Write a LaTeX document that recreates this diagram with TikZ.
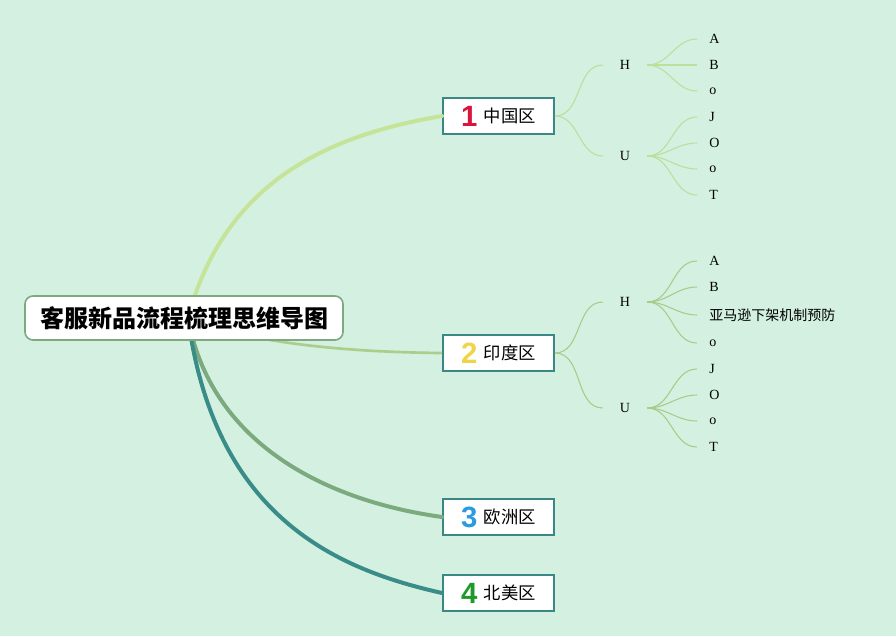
\documentclass[tikz,border=0pt]{standalone}
\usepackage{fontspec}
\setmainfont{Liberation Serif}
\newfontfamily\cjk{Noto Sans CJK SC}
\newfontfamily\digitfont{Liberation Sans}
\definecolor{mm_bg}{RGB}{211,240,225}
\definecolor{mm_root}{RGB}{126,168,128}
\definecolor{mm_box}{RGB}{58,136,134}
\definecolor{mm_one}{RGB}{197,228,154}
\definecolor{mm_two}{RGB}{170,207,140}
\definecolor{mm_three}{RGB}{123,170,126}
\definecolor{mm_four}{RGB}{58,140,136}
\definecolor{mm_thin}{RGB}{190,222,156}
\definecolor{mm_thintwo}{RGB}{168,204,136}
\definecolor{mm_red}{RGB}{218,20,58}
\definecolor{mm_yellow}{RGB}{242,212,74}
\definecolor{mm_blue}{RGB}{42,155,224}
\definecolor{mm_green}{RGB}{30,154,42}

\begin{document}
\begin{tikzpicture}[x=0.75pt,y=-0.75pt]
    % Define node and line styles
    \tikzset{
        rootbox/.style={draw=mm_root,line width=1.2pt,rounded corners=6pt,fill=white,
            minimum width=238.5pt,minimum height=33pt,inner sep=0pt,
            font=\cjk\bfseries\fontsize{18}{22}\selectfont},
        areabox/.style={draw=mm_box,line width=1.5pt,fill=white,
            minimum width=83.25pt,minimum height=27pt,inner sep=0pt,
            font=\cjk\fontsize{13}{15}\selectfont},
        sidenode/.style={minimum width=33pt,inner sep=0pt,font=\fontsize{10.5}{12}\selectfont},
        leafnode/.style={anchor=west,inner xsep=9pt,inner ysep=0pt,font=\fontsize{10.5}{12}\selectfont},
        thick branch/.style={line width=3pt,line cap=round},
        thin branch/.style={line width=0.8pt,out=0,in=180}
    }
    \newcommand{\num}[2]{\raisebox{-2.5pt}{\digitfont\bfseries\fontsize{22}{22}\selectfont\color{#1}#2}\hspace{5pt}}

    \fill[mm_bg] (0,0) rectangle (896,636); % Background

    % Main branches, drawn behind the root
    \coordinate (hub) at (188,318);
    \node[areabox] (china)  at (498.5,116) {\num{mm_red}{1}中国区};
    \node[areabox] (india)  at (498.5,353) {\num{mm_yellow}{2}印度区};
    \node[areabox] (europe) at (498.5,517) {\num{mm_blue}{3}欧洲区};
    \node[areabox] (usa)    at (498.5,593) {\num{mm_green}{4}北美区};

    \draw[thick branch,color=mm_one] (hub) .. controls (225,180) and (330,135) .. (china.west);
    \draw[line width=2pt,color=mm_two] (hub) .. controls (240,340) and (330,352) .. (india.west);
    \draw[thick branch,color=mm_three] (hub) .. controls (210,440) and (320,500) .. (europe.west);
    \draw[thick branch,color=mm_four] (hub) .. controls (215,520) and (340,570) .. (usa.west);

    \node[rootbox] (root) at (184,318) {客服新品流程梳理思维导图};

    % China subtree
    \node[sidenode] (chinah) at (625,65) {H};
    \node[sidenode] (chinau) at (625,156) {U};
    \draw[thin branch,color=mm_thin] (china.east) to (chinah.west);
    \draw[thin branch,color=mm_thin] (china.east) to (chinau.west);
    \foreach \n/\t/\y in {a/A/39,b/B/65,o/o/91}
    {
        \node[leafnode] (chinah\n) at (697,\y) {\t};
        \draw[thin branch,color=mm_thin] (chinah.east) to (chinah\n.west);
    }
    \foreach \n/\t/\y in {j/J/117,oo/O/143,o/o/169,t/T/195}
    {
        \node[leafnode] (chinau\n) at (697,\y) {\t};
        \draw[thin branch,color=mm_thin] (chinau.east) to (chinau\n.west);
    }

    % India subtree
    \node[sidenode] (indiah) at (625,302) {H};
    \node[sidenode] (indiau) at (625,408) {U};
    \draw[thin branch,color=mm_thintwo] (india.east) to (indiah.west);
    \draw[thin branch,color=mm_thintwo] (india.east) to (indiau.west);
    \foreach \n/\t/\y in {a/A/261,b/B/287,m/{\cjk 亚马逊下架机制预防}/315,o/o/343}
    {
        \node[leafnode] (indiah\n) at (697,\y) {\t};
        \draw[thin branch,color=mm_thintwo] (indiah.east) to (indiah\n.west);
    }
    \foreach \n/\t/\y in {j/J/369,oo/O/395,o/o/421,t/T/447}
    {
        \node[leafnode] (indiau\n) at (697,\y) {\t};
        \draw[thin branch,color=mm_thintwo] (indiau.east) to (indiau\n.west);
    }

    \useasboundingbox (0,0) rectangle (896,636);
\end{tikzpicture}
\end{document}
